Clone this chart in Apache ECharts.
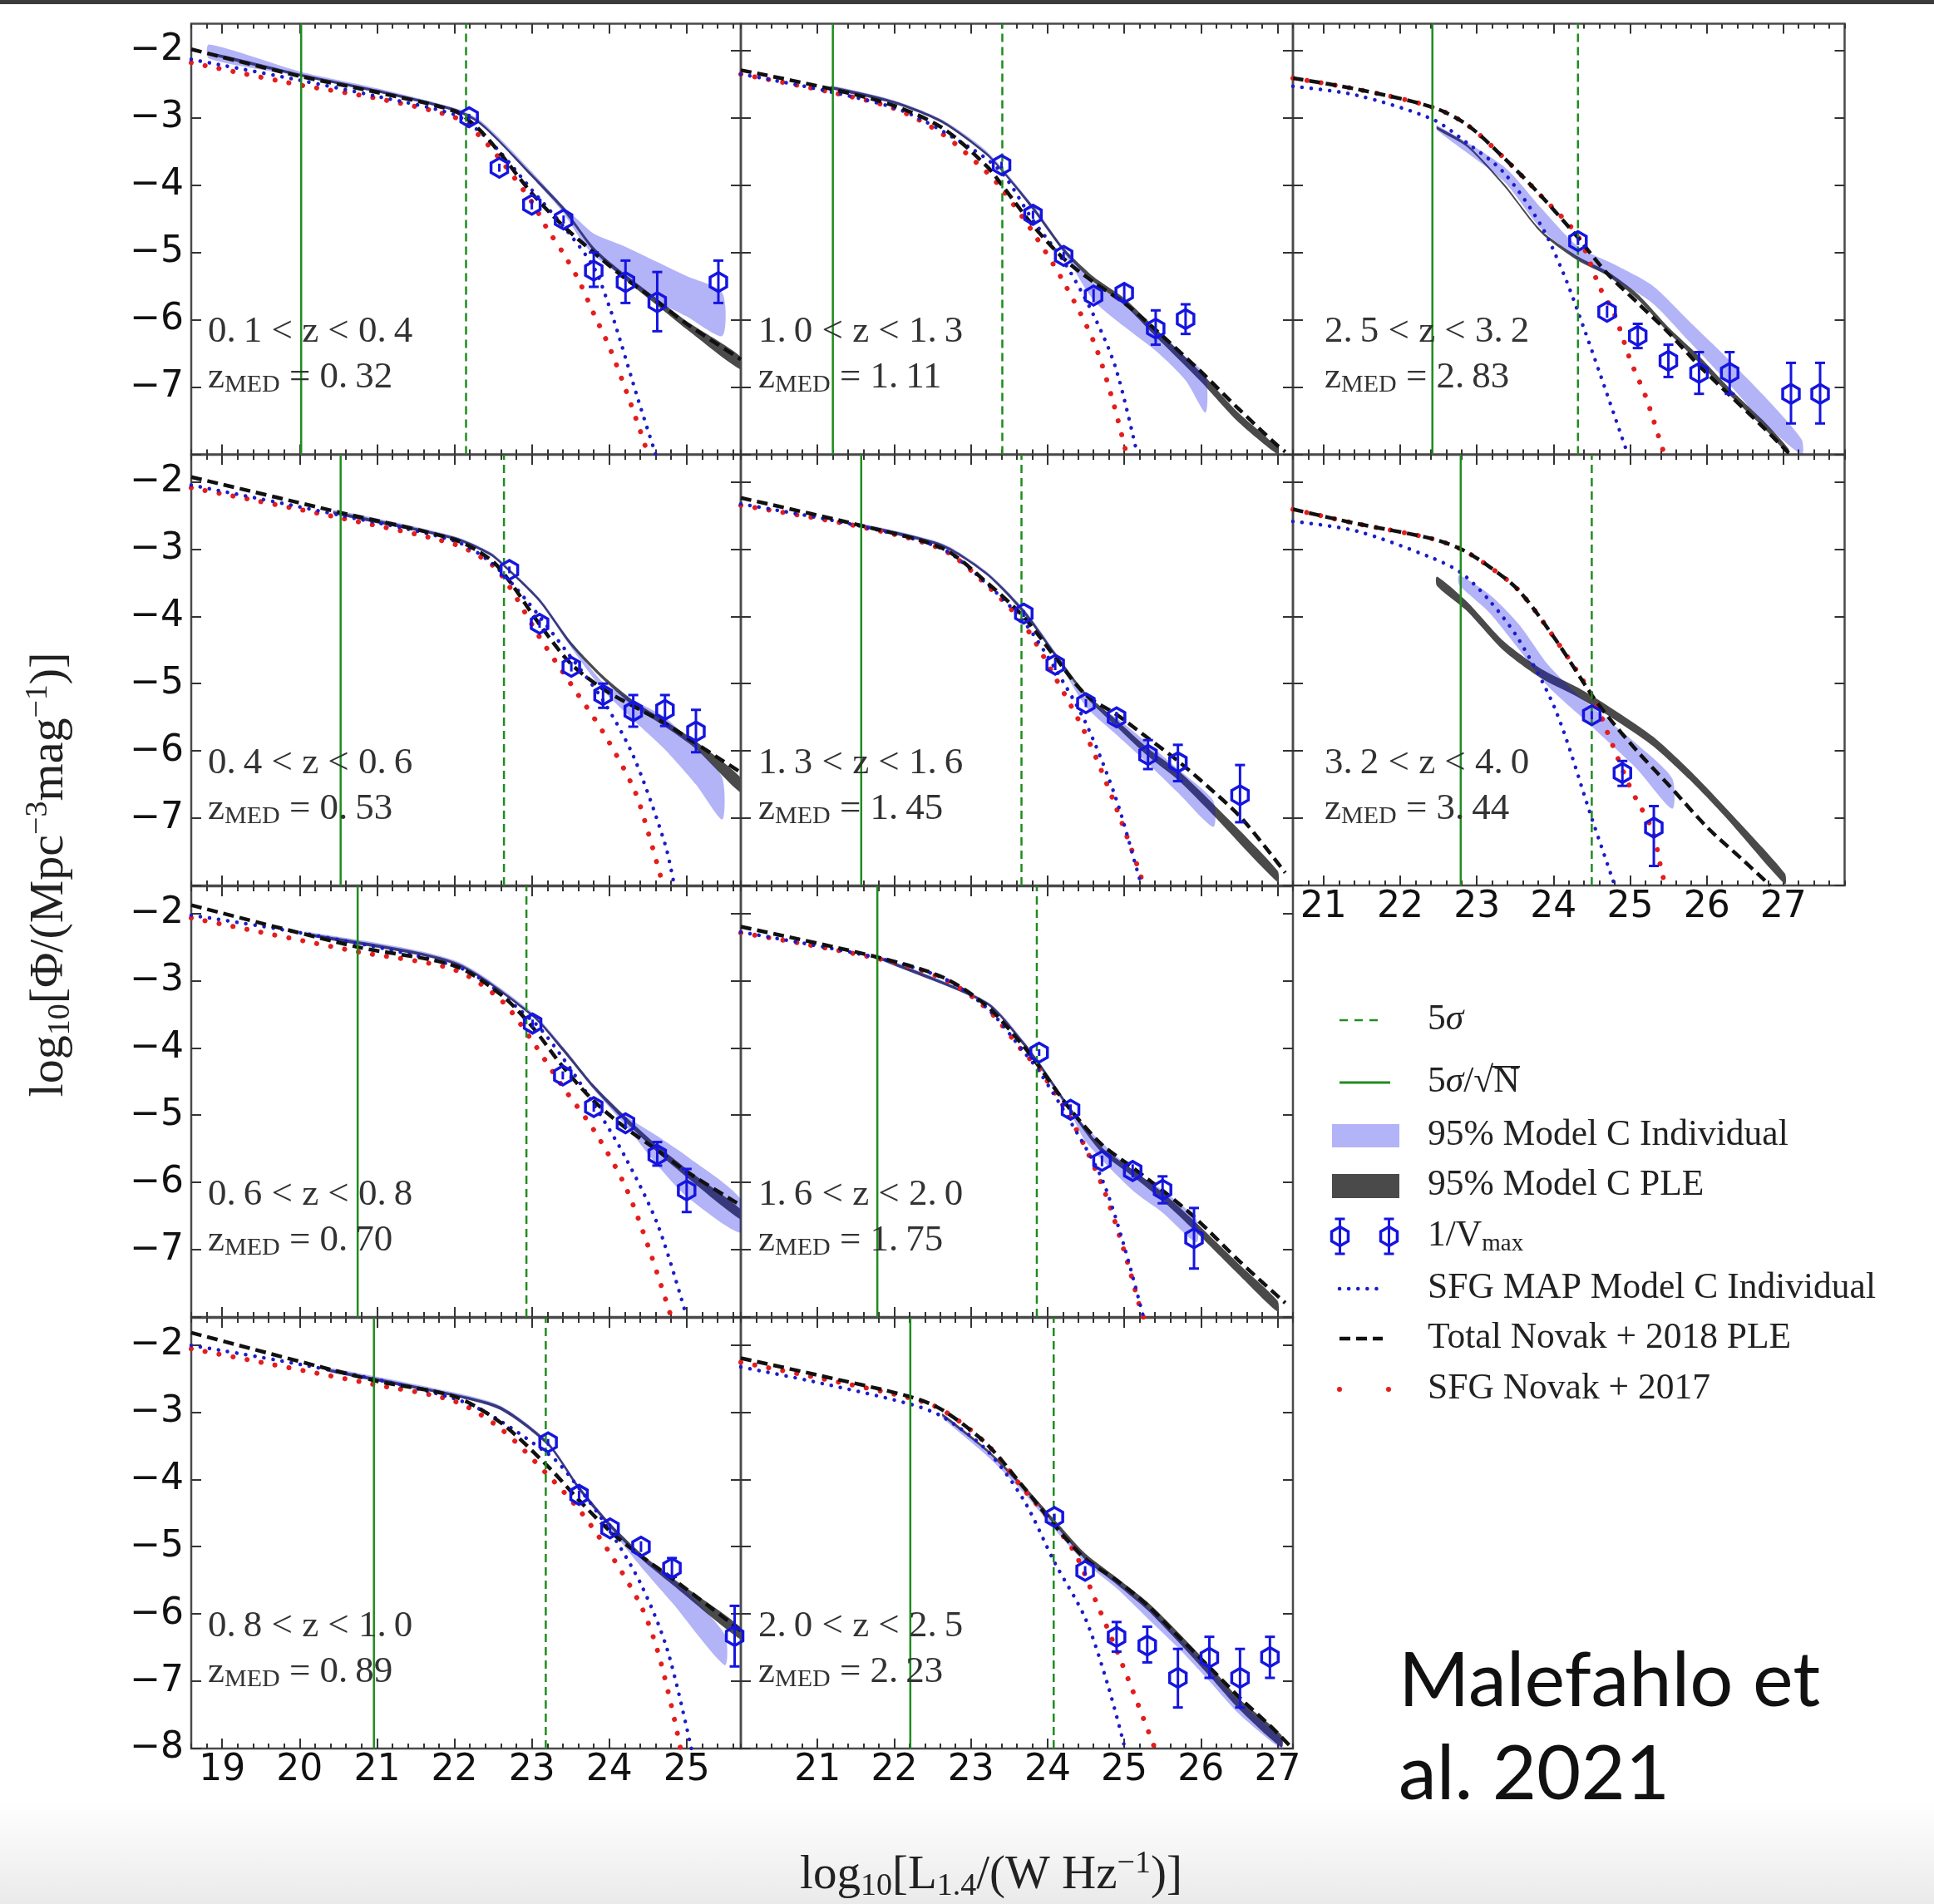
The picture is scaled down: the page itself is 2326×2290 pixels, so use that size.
<!DOCTYPE html>
<html>
<head>
<meta charset="utf-8">
<script src="https://cdn.jsdelivr.net/npm/echarts/dist/echarts.min.js"></script>
<style>
  html, body { margin: 0; padding: 0; background: #ffffff; }
  #chart { width: 2326px; height: 2290px; }
</style>
</head>
<body>
<div id="chart"></div>
<script>
// ---------------- panel layout (pixels) ----------------
const colLeft = [230, 891, 1555];
const colWidth = [661, 664, 663.5];
const rowTop = [28.5, 547, 1066, 1585];
const rowHeight = 518;
// panel order: left column top->bottom, middle column top->bottom, right column top->bottom
const panelCol = [0, 0, 0, 0, 1, 1, 1, 1, 2, 2];
const panelRow = [0, 1, 2, 3, 0, 1, 2, 3, 0, 1];
const labelInset = [20, 21, 38];

// ---------------- axes ----------------
const lumRange = [[18.6, 25.7], [20.0, 27.2], [20.6, 27.8]];
const phiRange = [-8, -1.6];
const lumTicks = [[19, 20, 21, 22, 23, 24, 25], [21, 22, 23, 24, 25, 26, 27], [21, 22, 23, 24, 25, 26, 27]];
const phiTicks = [-8, -7, -6, -5, -4, -3, -2];
const lumLabelPanels = [3, 7, 9];

// ---------------- redshift bins ----------------
const zBins = ['0.\u20091 < z < 0.\u20094', '0.\u20094 < z < 0.\u20096', '0.\u20096 < z < 0.\u20098', '0.\u20098 < z < 1.\u20090',
               '1.\u20090 < z < 1.\u20093', '1.\u20093 < z < 1.\u20096', '1.\u20096 < z < 2.\u20090', '2.\u20090 < z < 2.\u20095',
               '2.\u20095 < z < 3.\u20092', '3.\u20092 < z < 4.\u20090'];
const zMed = ['0.\u200932', '0.\u200953', '0.\u200970', '0.\u200989', '1.\u200911', '1.\u200945', '1.\u200975', '2.\u200923', '2.\u200983', '3.\u200944'];

// ---------------- flux limits (log10 L) ----------------
const lim5sigma = [22.15, 22.64, 22.93, 23.18, 23.41, 23.66, 23.86, 24.08, 24.32, 24.50];
const lim5sigmaSqrtN = [20.02, 20.53, 20.75, 20.96, 21.20, 21.57, 21.78, 22.21, 22.42, 22.79];

// ---------------- SFG Novak+2017 ----------------
const sfgNovak17 = [
  [[18.6,-2.18],[20,-2.51],[21,-2.71],[22,-2.99],[22.3,-3.24],[22.6,-3.63],[23.0,-4.25],[23.2,-4.65],[23.4,-5.0],[23.6,-5.40],[23.8,-5.91],[24.0,-6.4],[24.2,-7.0],[24.4,-7.65],[24.5,-8.0]],
  [[18.6,-2.09],[20.53,-2.54],[22,-2.93],[22.47,-3.22],[22.7,-3.54],[23.1,-4.31],[23.5,-5.0],[23.92,-5.72],[24.32,-6.57],[24.5,-7.2],[24.66,-7.85],[24.7,-8.0]],
  [[18.6,-2.07],[20.74,-2.57],[22,-2.84],[22.6,-3.29],[23.0,-3.89],[23.4,-4.58],[23.8,-5.22],[24.2,-6.04],[24.5,-6.94],[24.8,-8.0]],
  [[18.6,-2.06],[20.96,-2.59],[22,-2.84],[22.6,-3.25],[23.21,-3.94],[23.61,-4.45],[24.01,-5.10],[24.41,-5.88],[24.62,-6.53],[24.81,-7.4],[24.92,-8.0]],
  [[20.0,-2.35],[21.18,-2.62],[22,-2.86],[22.63,-3.24],[23.21,-3.81],[23.40,-4.05],[23.81,-4.70],[24.21,-5.44],[24.6,-6.32],[24.84,-7.16],[25.03,-8.0]],
  [[20.0,-2.35],[21.56,-2.67],[22.63,-3.01],[23.21,-3.54],[23.69,-4.12],[24.1,-4.91],[24.5,-5.76],[24.89,-6.83],[25.2,-7.8],[25.25,-8.0]],
  [[20.0,-2.29],[21.77,-2.67],[22.63,-2.97],[23.21,-3.42],[23.69,-4.07],[23.89,-4.32],[24.30,-5.05],[24.71,-6.04],[25.01,-7.06],[25.22,-7.92],[25.25,-8.0]],
  [[20.0,-2.26],[21,-2.49],[22.2,-2.79],[22.63,-2.97],[23.21,-3.48],[23.69,-4.15],[24.09,-4.68],[24.36,-5.1],[24.6,-5.73],[24.89,-6.51],[25.1,-7.11],[25.32,-7.76],[25.4,-8.0]],
  [[20.6,-2.41],[21.42,-2.57],[22.42,-2.84],[22.87,-3.10],[23.35,-3.59],[23.84,-4.16],[24.32,-4.76],[24.61,-5.53],[24.8,-5.93],[25.0,-6.59],[25.21,-7.16],[25.41,-7.87],[25.45,-8.0]],
  [[20.6,-2.41],[21.42,-2.62],[22.39,-2.84],[22.79,-3.0],[23.16,-3.26],[23.55,-3.62],[24.03,-4.35],[24.5,-5.17],[24.71,-5.74],[25.0,-6.54],[25.29,-7.18],[25.41,-7.78],[25.46,-8.0]]
];

// ---------------- Total Novak+2018 PLE ----------------
const totalNovak18 = [
  [[18.6,-1.98],[20,-2.38],[21,-2.62],[22,-2.90],[22.3,-3.15],[22.6,-3.54],[23.0,-4.12],[23.4,-4.60],[23.8,-5.0],[24.2,-5.38],[24.6,-5.71],[25.0,-6.06],[25.7,-6.59]],
  [[18.6,-1.93],[20.53,-2.46],[22,-2.86],[22.47,-3.16],[22.7,-3.46],[23.1,-4.12],[23.5,-4.70],[23.92,-5.08],[24.32,-5.34],[24.72,-5.59],[25.12,-5.89],[25.7,-6.32]],
  [[18.6,-1.88],[20.74,-2.50],[22,-2.78],[22.6,-3.21],[23.0,-3.68],[23.4,-4.28],[23.8,-4.79],[24.2,-5.18],[24.62,-5.52],[25.0,-5.84],[25.7,-6.34]],
  [[18.6,-1.82],[20.96,-2.53],[22,-2.77],[22.6,-3.16],[23.21,-3.81],[23.61,-4.31],[24.01,-4.77],[24.41,-5.14],[24.81,-5.47],[25.7,-6.25]],
  [[20.0,-2.29],[21.18,-2.57],[22,-2.82],[22.63,-3.15],[23.21,-3.72],[23.40,-3.99],[23.81,-4.60],[24.21,-5.09],[24.6,-5.44],[25.0,-5.75],[25.41,-6.15],[26.0,-6.77],[26.47,-7.30],[27.0,-7.87],[27.1,-7.96]],
  [[20.0,-2.24],[21.56,-2.65],[22.63,-2.99],[23.21,-3.50],[23.69,-4.01],[24.1,-4.61],[24.5,-5.17],[24.9,-5.46],[25.31,-5.81],[25.7,-6.15],[26.09,-6.53],[26.53,-7.0],[27.1,-7.81]],
  [[20.0,-2.20],[21.77,-2.65],[22.63,-2.95],[23.21,-3.38],[23.69,-3.98],[23.89,-4.28],[24.30,-4.92],[24.71,-5.44],[25.11,-5.78],[25.50,-6.12],[25.91,-6.51],[26.52,-7.19],[27.1,-7.79]],
  [[20.0,-2.20],[21,-2.45],[22.2,-2.77],[22.63,-2.97],[23.21,-3.48],[23.69,-4.12],[24.09,-4.68],[24.49,-5.18],[24.9,-5.50],[25.3,-5.87],[25.7,-6.33],[26.11,-6.79],[26.51,-7.25],[26.9,-7.66],[27.16,-7.96]],
  [[20.6,-2.41],[21.42,-2.57],[22.42,-2.84],[22.87,-3.10],[23.35,-3.59],[23.84,-4.16],[24.32,-4.78],[24.70,-5.31],[25.1,-5.75],[25.5,-6.19],[25.9,-6.68],[26.3,-7.12],[26.74,-7.60],[27.07,-7.98]],
  [[20.6,-2.41],[21.42,-2.62],[22.39,-2.84],[22.79,-3.0],[23.16,-3.26],[23.55,-3.62],[24.03,-4.35],[24.5,-5.17],[24.71,-5.49],[25.09,-6.0],[25.53,-6.54],[26.01,-7.14],[26.49,-7.64],[26.83,-8.0]]
];

// ---------------- SFG MAP Model C Individual ----------------
const sfgMapC = [
  [[18.6,-2.13],[20,-2.44],[21,-2.68],[22,-2.95],[22.3,-3.18],[22.6,-3.52],[23.0,-4.07],[23.4,-4.60],[23.8,-5.22],[24.0,-5.8],[24.14,-6.3],[24.38,-7.21],[24.6,-8.0]],
  [[18.6,-2.05],[20.53,-2.5],[22,-2.88],[22.47,-3.2],[22.9,-3.72],[23.5,-4.6],[23.92,-5.25],[24.32,-6.1],[24.72,-7.38],[24.84,-8.0]],
  [[18.6,-2.03],[22,-2.78],[23.0,-3.59],[23.4,-4.15],[23.8,-4.84],[24.2,-5.61],[24.63,-6.64],[25.0,-8.0]],
  [[18.6,-2.01],[22,-2.80],[23.21,-3.62],[23.61,-4.13],[24.01,-4.77],[24.41,-5.56],[24.75,-6.53],[25.06,-8.0]],
  [[20.0,-2.35],[22,-2.85],[23.0,-3.45],[23.40,-3.81],[23.81,-4.52],[24.21,-5.13],[24.6,-5.93],[24.89,-6.72],[25.17,-8.0]],
  [[20.0,-2.33],[21.56,-2.66],[22.63,-3.0],[23.21,-3.52],[23.69,-4.08],[24.1,-4.78],[24.5,-5.59],[24.89,-6.70],[25.2,-7.90],[25.23,-8.0]],
  [[20.0,-2.28],[21.77,-2.66],[22.63,-2.96],[23.21,-3.41],[23.69,-4.06],[23.89,-4.35],[24.30,-5.10],[24.71,-5.95],[25.0,-6.95],[25.25,-8.0]],
  [[20.0,-2.33],[21,-2.56],[22.2,-2.88],[22.63,-3.07],[23.21,-3.57],[23.69,-4.31],[24.09,-5.23],[24.49,-6.06],[24.79,-7.07],[25.01,-8.0]],
  [[20.6,-2.53],[21.42,-2.66],[22.42,-3.02],[22.87,-3.37],[23.35,-3.81],[23.84,-4.60],[24.13,-5.31],[24.32,-5.88],[24.61,-6.81],[24.97,-8.0]],
  [[20.6,-2.59],[21.42,-2.73],[22.39,-3.12],[22.79,-3.35],[23.16,-3.76],[23.55,-4.35],[24.03,-5.40],[24.5,-7.0],[24.8,-8.0]]
];

// ---------------- 95% Model C PLE band: [logL, lower, upper] ----------------
const bandPLE = [
  [[18.83,-2.06,-2.02],[20,-2.38,-2.34],[21,-2.62,-2.58],[22,-2.90,-2.86],[22.3,-3.07,-3.03],[22.6,-3.39,-3.35],[23.0,-3.88,-3.83],[23.4,-4.37,-4.31],[23.8,-4.98,-4.92],[24.2,-5.40,-5.32],[24.6,-5.77,-5.67],[25.0,-6.14,-6.02],[25.7,-6.74,-6.55]],
  [[20.44,-2.48,-2.44],[22,-2.86,-2.82],[22.47,-3.10,-3.06],[22.7,-3.33,-3.29],[23.1,-3.79,-3.74],[23.5,-4.43,-4.37],[23.92,-4.94,-4.88],[24.32,-5.34,-5.26],[24.72,-5.64,-5.55],[25.12,-5.97,-5.86],[25.7,-6.62,-6.40]],
  [[20.07,-2.33,-2.29],[22,-2.76,-2.72],[23.0,-3.53,-3.49],[23.4,-4.05,-3.99],[23.8,-4.61,-4.55],[24.2,-5.09,-5.01],[24.62,-5.55,-5.45],[25.0,-5.92,-5.80],[25.7,-6.55,-6.40]],
  [[20.37,-2.40,-2.36],[22,-2.77,-2.73],[22.6,-2.97,-2.92],[23.21,-3.50,-3.45],[23.61,-4.16,-4.10],[24.01,-4.71,-4.65],[24.41,-5.18,-5.10],[24.81,-5.56,-5.46],[25.7,-6.38,-6.20]],
  [[21.18,-2.57,-2.53],[22,-2.79,-2.75],[22.63,-3.08,-3.04],[23.21,-3.56,-3.52],[23.40,-3.79,-3.75],[23.81,-4.37,-4.31],[24.21,-4.99,-4.93],[24.6,-5.44,-5.36],[25.0,-5.78,-5.68],[25.41,-6.25,-6.13],[26.0,-6.92,-6.78],[26.47,-7.50,-7.36],[27.0,-8.0,-7.90]],
  [[21.56,-2.67,-2.63],[22.63,-2.97,-2.93],[23.21,-3.39,-3.35],[23.69,-3.96,-3.90],[24.1,-4.60,-4.54],[24.5,-5.20,-5.14],[24.9,-5.64,-5.54],[25.31,-6.08,-5.96],[25.7,-6.43,-6.29],[26.09,-6.87,-6.71],[27.0,-7.95,-7.78]],
  [[21.77,-2.67,-2.63],[23.21,-3.36,-3.32],[23.69,-3.97,-3.91],[23.89,-4.27,-4.21],[24.30,-4.95,-4.89],[24.71,-5.56,-5.48],[25.11,-5.91,-5.81],[25.50,-6.27,-6.15],[25.91,-6.71,-6.57],[26.52,-7.40,-7.24],[27.0,-7.92,-7.76]],
  [[22.63,-3.06,-3.02],[23.21,-3.59,-3.55],[23.69,-4.15,-4.09],[24.09,-4.67,-4.60],[24.49,-5.19,-5.10],[24.9,-5.56,-5.46],[25.3,-5.94,-5.82],[25.7,-6.41,-6.27],[26.11,-6.92,-6.76],[26.51,-7.43,-7.27],[27.05,-7.98,-7.80]],
  [[22.48,-3.17,-3.13],[22.87,-3.43,-3.39],[23.35,-4.01,-3.97],[23.84,-4.71,-4.67],[24.32,-5.12,-5.06],[24.70,-5.34,-5.28],[25.1,-5.70,-5.62],[25.5,-6.19,-6.11],[25.9,-6.64,-6.54],[26.3,-7.12,-7.02],[26.74,-7.60,-7.50],[27.07,-8.0,-7.92]],
  [[22.48,-3.55,-3.41],[22.87,-3.92,-3.78],[23.35,-4.51,-4.37],[23.84,-4.92,-4.78],[24.32,-5.20,-5.06],[24.71,-5.47,-5.33],[25.29,-5.92,-5.78],[25.77,-6.42,-6.28],[26.25,-6.99,-6.85],[27.02,-7.98,-7.82]]
];

// ---------------- 95% Model C Individual band: [logL, lower, upper] ----------------
const bandIndiv = [
  [[18.83,-2.12,-1.91],[20,-2.38,-2.31],[21,-2.62,-2.56],[22,-2.90,-2.85],[22.3,-3.07,-3.01],[22.6,-3.39,-3.32],[23.0,-3.88,-3.80],[23.4,-4.40,-4.30],[23.6,-4.75,-4.52],[23.8,-5.04,-4.72],[24.2,-5.38,-4.91],[24.6,-5.71,-5.13],[25.0,-5.95,-5.35],[25.46,-6.24,-5.60]],
  [[20.44,-2.48,-2.42],[22,-2.86,-2.81],[22.47,-3.10,-3.05],[22.7,-3.33,-3.28],[23.1,-3.79,-3.73],[23.5,-4.45,-4.37],[23.92,-5.10,-4.98],[24.32,-5.55,-5.25],[24.72,-5.98,-5.50],[25.12,-6.50,-5.95],[25.46,-7.02,-6.40]],
  [[20.07,-2.33,-2.27],[22,-2.76,-2.70],[23.0,-3.53,-3.47],[23.4,-4.05,-3.98],[23.8,-4.62,-4.55],[24.2,-5.14,-5.00],[24.62,-5.74,-5.31],[25.0,-6.21,-5.61],[25.7,-6.75,-6.25]],
  [[20.37,-2.40,-2.34],[22,-2.77,-2.71],[22.6,-2.97,-2.91],[23.21,-3.50,-3.44],[23.61,-4.17,-4.10],[24.01,-4.73,-4.65],[24.41,-5.30,-5.14],[24.81,-5.83,-5.47],[25.49,-6.76,-6.30]],
  [[21.18,-2.57,-2.52],[22,-2.79,-2.74],[22.63,-3.08,-3.03],[23.21,-3.56,-3.50],[23.81,-4.37,-4.30],[24.21,-5.00,-4.93],[24.6,-5.71,-5.45],[25.0,-6.10,-5.76],[25.41,-6.46,-6.16],[25.8,-6.90,-6.55],[26.06,-7.38,-6.82]],
  [[21.56,-2.67,-2.62],[22.63,-2.97,-2.92],[23.21,-3.39,-3.34],[23.69,-3.96,-3.89],[24.1,-4.60,-4.53],[24.5,-5.34,-5.21],[24.9,-5.76,-5.51],[25.31,-6.19,-5.89],[25.7,-6.62,-6.27],[26.16,-7.13,-6.74]],
  [[21.77,-2.67,-2.62],[23.21,-3.36,-3.31],[23.69,-3.97,-3.90],[24.30,-4.98,-4.89],[24.5,-5.40,-5.18],[25.11,-6.12,-5.82],[25.5,-6.45,-6.12],[25.94,-6.89,-6.55]],
  [[22.63,-3.09,-3.04],[23.21,-3.65,-3.58],[23.69,-4.20,-4.12],[24.09,-4.74,-4.65],[24.49,-5.24,-5.15],[24.9,-5.62,-5.52],[25.3,-6.06,-5.90],[25.7,-6.50,-6.34],[26.11,-7.00,-6.82],[26.51,-7.50,-7.32],[27.05,-8.0,-7.85]],
  [[22.48,-3.18,-3.11],[23.35,-3.94,-3.72],[23.84,-4.65,-4.34],[24.32,-5.09,-4.91],[24.8,-5.40,-5.18],[25.29,-5.75,-5.49],[25.77,-6.32,-6.02],[26.25,-6.90,-6.55],[26.74,-7.52,-7.12],[27.24,-8.0,-7.78]],
  [[22.77,-3.53,-3.39],[23.16,-3.94,-3.67],[23.55,-4.49,-4.12],[23.93,-5.04,-4.72],[24.32,-5.45,-5.17],[24.71,-5.86,-5.54],[25.09,-6.27,-5.90],[25.55,-6.86,-6.41]]
];

// ---------------- 1/Vmax estimates: [logL, logPhi, lower, upper] ----------------
const vmax = [
  [[22.19,-2.99,-3.04,-2.94],[22.58,-3.74,-3.80,-3.68],[23.0,-4.29,-4.36,-4.22],[23.41,-4.51,-4.57,-4.45],[23.80,-5.27,-5.51,-5.0],[24.21,-5.44,-5.75,-5.12],[24.62,-5.74,-6.17,-5.29],[25.41,-5.44,-5.75,-5.12]],
  [[22.71,-3.31,-3.36,-3.26],[23.10,-4.11,-4.17,-4.05],[23.51,-4.75,-4.82,-4.68],[23.92,-5.17,-5.36,-5.0],[24.31,-5.41,-5.64,-5.17],[24.72,-5.39,-5.63,-5.17],[25.12,-5.71,-6.02,-5.39]],
  [[23.01,-3.64,-3.70,-3.58],[23.40,-4.41,-4.47,-4.35],[23.80,-4.88,-4.95,-4.81],[24.21,-5.12,-5.20,-5.04],[24.62,-5.59,-5.75,-5.40],[25.0,-6.12,-6.44,-5.80]],
  [[23.21,-3.45,-3.50,-3.40],[23.61,-4.23,-4.29,-4.17],[24.01,-4.73,-4.80,-4.66],[24.41,-5.0,-5.08,-4.92],[24.81,-5.32,-5.45,-5.17],[25.62,-6.33,-6.78,-5.88]],
  [[23.40,-3.70,-3.75,-3.65],[23.81,-4.44,-4.50,-4.38],[24.21,-5.05,-5.11,-4.99],[24.60,-5.64,-5.74,-5.54],[25.0,-5.60,-5.72,-5.48],[25.41,-6.13,-6.37,-5.86],[25.80,-5.99,-6.21,-5.77]],
  [[23.69,-3.96,-4.01,-3.91],[24.10,-4.72,-4.80,-4.64],[24.50,-5.29,-5.35,-5.23],[24.90,-5.50,-5.58,-5.42],[25.31,-6.06,-6.27,-5.84],[25.70,-6.17,-6.45,-5.91],[26.51,-6.66,-7.06,-6.21]],
  [[23.89,-4.07,-4.12,-4.02],[24.30,-4.92,-5.0,-4.84],[24.71,-5.68,-5.76,-5.60],[25.11,-5.83,-5.93,-5.73],[25.50,-6.11,-6.31,-5.91],[25.91,-6.83,-7.28,-6.38]],
  [[24.09,-4.56,-4.61,-4.51],[24.49,-5.36,-5.43,-5.29],[24.90,-6.34,-6.56,-6.12],[25.30,-6.47,-6.72,-6.19],[25.70,-6.95,-7.39,-6.52],[26.11,-6.65,-6.95,-6.34],[26.51,-6.95,-7.39,-6.52],[26.90,-6.64,-6.95,-6.34]],
  [[24.32,-4.83,-4.89,-4.77],[24.70,-5.88,-5.97,-5.79],[25.10,-6.24,-6.42,-6.06],[25.50,-6.61,-6.85,-6.37],[25.90,-6.79,-7.10,-6.48],[26.30,-6.79,-7.10,-6.48],[27.10,-7.10,-7.54,-6.64],[27.48,-7.10,-7.54,-6.64]],
  [[24.50,-5.47,-5.53,-5.41],[24.90,-6.33,-6.52,-6.15],[25.31,-7.14,-7.71,-6.82]]
];

// ---------------- legend entries ----------------
const legendLabels = ['5{it|σ}', '5{it|σ}/√N', '95% Model C Individual', '95% Model C PLE', '1/V{sub|max}',
                      'SFG MAP Model C Individual', 'Total Novak + 2018 PLE', 'SFG Novak + 2017'];

// ---------------- styling ----------------
const RED = '#e41d1d';
const DOT_BLUE = '#1c1cc8';
const PT_BLUE = '#1515e0';
const BAND_BLUE = 'rgba(20,20,232,0.32)';
const BAND_GRAY = '#4a4a4a';
const GREEN = '#1f8c1f';
const SERIF = '"Liberation Serif", "Times New Roman", serif';
const tickLine = { color: '#333333', width: 2 };
const minus = v => (v < 0 ? '\u2212' + Math.abs(v) : String(v));
const LEGEND_SIZE = 43.5;

function hexagon(c, r) {
  const pts = [];
  for (let k = 0; k < 6; k++) {
    const a = Math.PI / 2 + k * Math.PI / 3;
    pts.push([c[0] + r * Math.cos(a), c[1] - r * Math.sin(a)]);
  }
  return pts;
}

// open hexagon with vertical error bar and caps
function errorGlyph(cx, cy, yLo, yHi) {
  const r = 11.5, cap = 6;
  const kids = [{ type: 'line', shape: { x1: cx, y1: yLo, x2: cx, y2: yHi }, style: { stroke: PT_BLUE, lineWidth: 3 } }];
  if (yLo - cy > r - 1) kids.push({ type: 'line', shape: { x1: cx - cap, y1: yLo, x2: cx + cap, y2: yLo }, style: { stroke: PT_BLUE, lineWidth: 3 } });
  if (cy - yHi > r - 1) kids.push({ type: 'line', shape: { x1: cx - cap, y1: yHi, x2: cx + cap, y2: yHi }, style: { stroke: PT_BLUE, lineWidth: 3 } });
  kids.push({ type: 'polygon', shape: { points: hexagon([cx, cy], r) }, style: { stroke: PT_BLUE, fill: 'none', lineWidth: 3.5 } });
  return kids;
}

function bandSeries(i, band, fill, z) {
  return {
    type: 'custom', xAxisIndex: 4 * i, yAxisIndex: 2 * i, z, silent: true, clip: true,
    data: band, encode: { x: 0, y: 1 },
    renderItem: (params, api) => {
      if (params.dataIndex !== 0) return null;
      const upper = band.map(p => api.coord([p[0], p[2]]));
      const lower = band.slice().reverse().map(p => api.coord([p[0], p[1]]));
      return { type: 'polygon', shape: { points: upper.concat(lower), smooth: 0.25 }, style: { fill } };
    }
  };
}

function curve(i, data, color, width, dash, cap, z) {
  return {
    type: 'line', xAxisIndex: 4 * i, yAxisIndex: 2 * i, data, symbol: 'none', smooth: 0.3,
    silent: true, z, lineStyle: { color, width, type: dash, cap }
  };
}

function vline(i, x, dashed) {
  return {
    type: 'line', xAxisIndex: 4 * i, yAxisIndex: 2 * i, data: [[x, phiRange[0]], [x, phiRange[1]]],
    symbol: 'none', silent: true, z: 7,
    lineStyle: { color: GREEN, width: 2.5, type: dashed ? [10, 6] : 'solid' }
  };
}

function pointSeries(i, pts) {
  return {
    type: 'custom', xAxisIndex: 4 * i, yAxisIndex: 2 * i, z: 9, silent: true,
    data: pts, encode: { x: 0, y: 1 },
    renderItem: (params, api) => {
      const x = api.value(0);
      const c = api.coord([x, api.value(1)]);
      const lo = api.coord([x, api.value(2)]);
      const hi = api.coord([x, api.value(3)]);
      return { type: 'group', children: errorGlyph(c[0], c[1], lo[1], hi[1]) };
    }
  };
}

const grids = [], xAxes = [], yAxes = [], series = [], graphics = [];

for (let i = 0; i < 10; i++) {
  const c = panelCol[i], r = panelRow[i];
  grids.push({
    left: colLeft[c], top: rowTop[r], width: colWidth[c], height: rowHeight,
    show: true, borderColor: '#4a4a4a', borderWidth: 2.5, backgroundColor: 'transparent',
    containLabel: false, outerBoundsMode: 'none'
  });
  const base = {
    gridIndex: i, type: 'value', min: lumRange[c][0], max: lumRange[c][1],
    axisLine: { show: false }, splitLine: { show: false }, axisPointer: { show: false }
  };
  const major = { show: true, inside: true, length: 12, customValues: lumTicks[c], lineStyle: tickLine };
  const minor = { show: true, inside: true, length: 6, lineStyle: tickLine };
  xAxes.push(Object.assign({}, base, {
    position: 'bottom', axisTick: major,
    axisLabel: {
      show: lumLabelPanels.includes(i), customValues: lumTicks[c], formatter: v => String(v),
      color: '#111', fontSize: 44, fontFamily: 'DejaVu Sans', margin: 5
    }
  }));
  xAxes.push(Object.assign({}, base, { position: 'bottom', interval: 0.2, axisTick: minor, axisLabel: { show: false } }));
  xAxes.push(Object.assign({}, base, { position: 'top', axisTick: major, axisLabel: { show: false } }));
  xAxes.push(Object.assign({}, base, { position: 'top', interval: 0.2, axisTick: minor, axisLabel: { show: false } }));

  const yBase = {
    gridIndex: i, type: 'value', min: phiRange[0], max: phiRange[1],
    axisLine: { show: false }, splitLine: { show: false }, axisPointer: { show: false },
    axisTick: { show: true, inside: true, length: 12, customValues: phiTicks, lineStyle: tickLine }
  };
  yAxes.push(Object.assign({}, yBase, {
    position: 'left',
    axisLabel: {
      show: c === 0, customValues: r === 3 ? phiTicks : phiTicks.slice(1), formatter: minus,
      color: '#111', fontSize: 44, fontFamily: 'DejaVu Sans', margin: 9
    }
  }));
  yAxes.push(Object.assign({}, yBase, { position: 'right', axisLabel: { show: false } }));

  series.push(bandSeries(i, bandPLE[i], BAND_GRAY, 2));
  series.push(bandSeries(i, bandIndiv[i], BAND_BLUE, 3));
  series.push(curve(i, sfgNovak17[i], RED, 6, [0.1, 17], 'round', 4));
  series.push(curve(i, sfgMapC[i], DOT_BLUE, 4.5, [0.1, 11], 'round', 5));
  series.push(curve(i, totalNovak18[i], '#111111', 4.5, [13, 7], 'butt', 6));
  series.push(vline(i, lim5sigma[i], true));
  series.push(vline(i, lim5sigmaSqrtN[i], false));
  series.push(pointSeries(i, vmax[i]));

  // redshift bin annotation
  const tx = colLeft[c] + labelInset[c];
  graphics.push({
    type: 'text', x: tx, y: rowTop[r] + 371, z: 50, silent: true,
    style: { text: zBins[i], font: `45px ${SERIF}`, fill: '#333', textVerticalAlign: 'middle' }
  });
  graphics.push({
    type: 'text', x: tx, y: rowTop[r] + 426, z: 50, silent: true,
    style: {
      text: `{b|z}{s|MED}{b| = ${zMed[i]}}`, textVerticalAlign: 'middle',
      rich: {
        b: { font: `45px ${SERIF}`, fill: '#333' },
        s: { font: `30px ${SERIF}`, fill: '#333', padding: [18, 0, 0, 0] }
      }
    }
  });
}

// ---------------- axis titles ----------------
const mathRich = size => ({
  n: { font: `${size}px ${SERIF}`, fill: '#222' },
  sub: { font: `${Math.round(size * 0.66)}px ${SERIF}`, fill: '#222', padding: [26, 0, 0, 0] },
  sup: { font: `${Math.round(size * 0.66)}px ${SERIF}`, fill: '#222', padding: [0, 0, 28, 0] }
});
graphics.push({
  type: 'text', x: 1192, y: 2256, z: 50, silent: true,
  style: {
    text: '{n|log}{sub|10}{n|[L}{sub|1.4}{n|/(W Hz}{sup|\u22121}{n|)]}',
    textAlign: 'center', textVerticalAlign: 'middle', rich: mathRich(57)
  }
});
graphics.push({
  type: 'text', x: 60, y: 1052, rotation: Math.PI / 2, z: 50, silent: true,
  style: {
    text: '{n|log}{sub|10}{n|[Φ/(Mpc}{sup|\u22123}{n|mag}{sup|\u22121}{n|)]}',
    textAlign: 'center', textVerticalAlign: 'middle', rich: mathRich(58)
  }
});

// ---------------- legend ----------------
const legendY = [1227, 1302, 1366, 1426, 1487, 1550, 1610, 1671];
const legendX = 1717;
const legendRich = {
  it: { font: `italic ${LEGEND_SIZE}px ${SERIF}`, fill: '#222' },
  sub: { font: `29px ${SERIF}`, fill: '#222', padding: [18, 0, 0, 0] }
};
legendLabels.forEach((t, k) => {
  graphics.push({
    type: 'text', x: legendX, y: legendY[k], z: 60, silent: true,
    style: { text: t, font: `${LEGEND_SIZE}px ${SERIF}`, fill: '#222', textVerticalAlign: 'middle', rich: legendRich }
  });
});
// vinculum over N in the 5σ/√N entry
(function () {
  const ctx = document.createElement('canvas').getContext('2d');
  ctx.font = `${LEGEND_SIZE}px ${SERIF}`;
  const w5 = ctx.measureText('5').width;
  const wSlash = ctx.measureText('/').width;
  const wRoot = ctx.measureText('√').width;
  const wN = ctx.measureText('N').width;
  ctx.font = `italic ${LEGEND_SIZE}px ${SERIF}`;
  const wSigma = ctx.measureText('σ').width;
  const x0 = legendX + w5 + wSigma + wSlash + wRoot * 0.92;
  graphics.push({ type: 'line', z: 60, silent: true, shape: { x1: x0, y1: legendY[1] - 19, x2: x0 + wN + wRoot * 0.1, y2: legendY[1] - 19 }, style: { stroke: '#222', lineWidth: 1.8 } });
})();
graphics.push({ type: 'line', z: 60, silent: true, shape: { x1: 1611, y1: legendY[0], x2: 1663, y2: legendY[0] }, style: { stroke: GREEN, lineWidth: 2.5, lineDash: [10, 8] } });
graphics.push({ type: 'line', z: 60, silent: true, shape: { x1: 1611, y1: legendY[1], x2: 1672, y2: legendY[1] }, style: { stroke: GREEN, lineWidth: 3 } });
graphics.push({ type: 'rect', z: 60, silent: true, shape: { x: 1602, y: legendY[2] - 14, width: 81, height: 28 }, style: { fill: BAND_BLUE } });
graphics.push({ type: 'rect', z: 60, silent: true, shape: { x: 1602, y: legendY[3] - 14, width: 81, height: 29 }, style: { fill: BAND_GRAY } });
[1611.5, 1670.5].forEach(x => {
  graphics.push({ type: 'group', z: 60, silent: true, children: errorGlyph(x, legendY[4], legendY[4] + 21, legendY[4] - 21) });
});
graphics.push({ type: 'line', z: 60, silent: true, shape: { x1: 1611, y1: legendY[5], x2: 1663, y2: legendY[5] }, style: { stroke: DOT_BLUE, lineWidth: 4.5, lineDash: [0.1, 11], lineCap: 'round' } });
graphics.push({ type: 'line', z: 60, silent: true, shape: { x1: 1611, y1: legendY[6], x2: 1663, y2: legendY[6] }, style: { stroke: '#111', lineWidth: 4.5, lineDash: [13, 7] } });
[1611, 1670].forEach(x => {
  graphics.push({ type: 'circle', z: 60, silent: true, shape: { cx: x, cy: legendY[7], r: 3 }, style: { fill: RED } });
});

// ---------------- credit ----------------
graphics.push({ type: 'text', x: 1682, y: 2022, z: 60, silent: true, style: { text: 'Malefahlo et', font: '92px Lato, "Open Sans", sans-serif', fill: '#111', textVerticalAlign: 'middle' } });
graphics.push({ type: 'text', x: 1682, y: 2134, z: 60, silent: true, style: { text: 'al. 2021', font: '92px Lato, "Open Sans", sans-serif', fill: '#111', textVerticalAlign: 'middle' } });

// ---------------- page frame ----------------
graphics.push({ type: 'rect', z: 100, silent: true, shape: { x: 0, y: 0, width: 2326, height: 5 }, style: { fill: '#3c3c3c' } });
graphics.push({
  type: 'rect', z: -1, silent: true, shape: { x: 0, y: 2165, width: 2326, height: 125 },
  style: { fill: { type: 'linear', x: 0, y: 0, x2: 0, y2: 1, colorStops: [{ offset: 0, color: 'rgba(236,236,236,0)' }, { offset: 1, color: 'rgba(234,234,234,1)' }] } }
});

const chart = echarts.init(document.getElementById('chart'), null, { renderer: 'canvas' });
chart.setOption({
  animation: false,
  backgroundColor: '#ffffff',
  grid: grids,
  xAxis: xAxes,
  yAxis: yAxes,
  series: series,
  graphic: { elements: graphics }
});
</script>
</body>
</html>
